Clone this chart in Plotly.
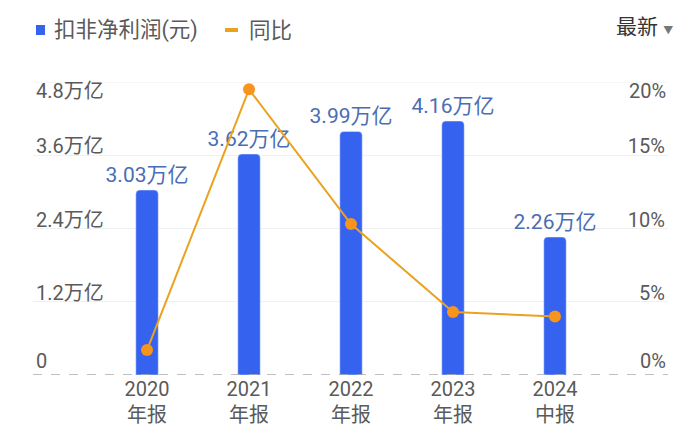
import plotly.graph_objects as go

categories = ["2020<br>年报", "2021<br>年报", "2022<br>年报", "2023<br>年报", "2024<br>中报"]
profit_wanyi = [3.03, 3.62, 3.99, 4.16, 2.26]
yoy_pct = [1.7, 19.5, 10.3, 4.3, 4.0]
left_ticks = [0, 1.2, 2.4, 3.6, 4.8]
left_ticktext = ["0", "1.2万亿", "2.4万亿", "3.6万亿", "4.8万亿"]
right_ticks = [0, 5, 10, 15, 20]
right_ticktext = ["0%", "5%", "10%", "15%", "20%"]
bar_name = "扣非净利润(元)"
line_name = "同比"

FONT = "Roboto, 'Noto Sans CJK SC', sans-serif"
BAR_C = "#3563f0"
LINE_C = "#eaa21f"
MARK_C = "#f7941d"
GRAY = "#5a5a5a"

# plot area in pixels
L, R, T, B = 33, 32, 82, 64
W, H = 700, 439
PW, PH = W - L - R, H - T - B


def px_x(p):
    return (p - L) / PW


def px_y(p):
    return (H - B - p) / PH


fig = go.Figure()
fig.add_trace(go.Bar(
    x=categories, y=profit_wanyi, name=bar_name,
    marker=dict(color=BAR_C, cornerradius=4), width=0.22,
    texttemplate="%{y:.2f}万亿", textposition="outside", constraintext="none",
    textfont=dict(color="#4a6db3", size=21, family=FONT),
    cliponaxis=False, yaxis="y", showlegend=False,
))
fig.add_trace(go.Scatter(
    x=categories, y=yoy_pct, name=line_name, mode="lines+markers",
    line=dict(color=LINE_C, width=2),
    marker=dict(color=MARK_C, size=12),
    yaxis="y2", showlegend=False, cliponaxis=False,
))

# dashed baseline
fig.add_shape(type="line", xref="paper", yref="y", x0=0, x1=1, y0=0, y1=0,
              line=dict(color="#aaaaaa", width=1.5, dash="dash"))

# legend (manual)
ly = px_y(30)
fig.add_shape(type="rect", xref="paper", yref="paper",
              x0=px_x(36), x1=px_x(45), y0=px_y(35), y1=px_y(25),
              fillcolor=BAR_C, line=dict(width=0))
fig.add_annotation(xref="paper", yref="paper", x=px_x(52), y=ly, text=bar_name,
                   showarrow=False, xanchor="left", yanchor="middle",
                   font=dict(size=21.5, color=GRAY, family=FONT))
fig.add_shape(type="line", xref="paper", yref="paper",
              x0=px_x(225), x1=px_x(238), y0=ly, y1=ly,
              line=dict(color=LINE_C, width=4))
fig.add_annotation(xref="paper", yref="paper", x=px_x(247), y=ly, text=line_name,
                   showarrow=False, xanchor="left", yanchor="middle",
                   font=dict(size=21.5, color=GRAY, family=FONT))

# top-right selector
fig.add_annotation(xref="paper", yref="paper", x=px_x(675), y=px_y(27),
                   text="最新 <span style='font-size:10px;color:#777'>▼</span>",
                   showarrow=False, xanchor="right", yanchor="middle",
                   font=dict(size=21, color="#333333", family=FONT))

# top and bottom tick labels as annotations (kept inside plot area)
for yv, txt, yanc, ysh in [(left_ticks[-1], left_ticktext[-1], "top", 5),
                           (left_ticks[0], left_ticktext[0], "bottom", 0)]:
    fig.add_annotation(xref="paper", yref="y", x=0, y=yv, yshift=ysh, xshift=1,
                       text=txt, showarrow=False, xanchor="left", yanchor=yanc,
                       font=dict(size=20, color=GRAY, family=FONT))
for yv, txt, yanc, ysh in [(right_ticks[-1], right_ticktext[-1], "top", 5),
                           (right_ticks[0], right_ticktext[0], "bottom", 0)]:
    fig.add_annotation(xref="paper", yref="y2", x=1, y=yv, yshift=ysh,
                       text=txt, showarrow=False, xanchor="right", yanchor=yanc,
                       font=dict(size=20, color=GRAY, family=FONT))

fig.update_layout(
    width=W, height=H,
    margin=dict(l=L, r=R, t=T, b=B, autoexpand=False),
    paper_bgcolor="white", plot_bgcolor="white",
    font=dict(family=FONT, color=GRAY),
    showlegend=False,
    xaxis=dict(range=[-1.118, 5.108], showgrid=False, showline=False, zeroline=False,
               ticks="", tickfont=dict(size=20, color=GRAY)),
    yaxis=dict(range=[0, 4.8], tickvals=left_ticks[1:-1], ticktext=left_ticktext[1:-1],
               ticklabelposition="inside top", ticklabelshift=5,
               showgrid=True, gridcolor="#f0f0f0",
               zeroline=False, showline=False, ticks="",
               tickfont=dict(size=20, color=GRAY)),
    yaxis2=dict(range=[0, 20], tickvals=right_ticks[1:-1], ticktext=right_ticktext[1:-1],
                overlaying="y", side="right", ticklabelposition="inside top",
                ticklabelshift=5,
                showgrid=False, zeroline=False, showline=False, ticks="",
                tickfont=dict(size=20, color=GRAY)),
)
fig.add_shape(type="line", xref="paper", yref="y", x0=0, x1=1,
              y0=left_ticks[-1], y1=left_ticks[-1],
              line=dict(color="#f0f0f0", width=1), layer="below")

fig.write_html("out.html")
